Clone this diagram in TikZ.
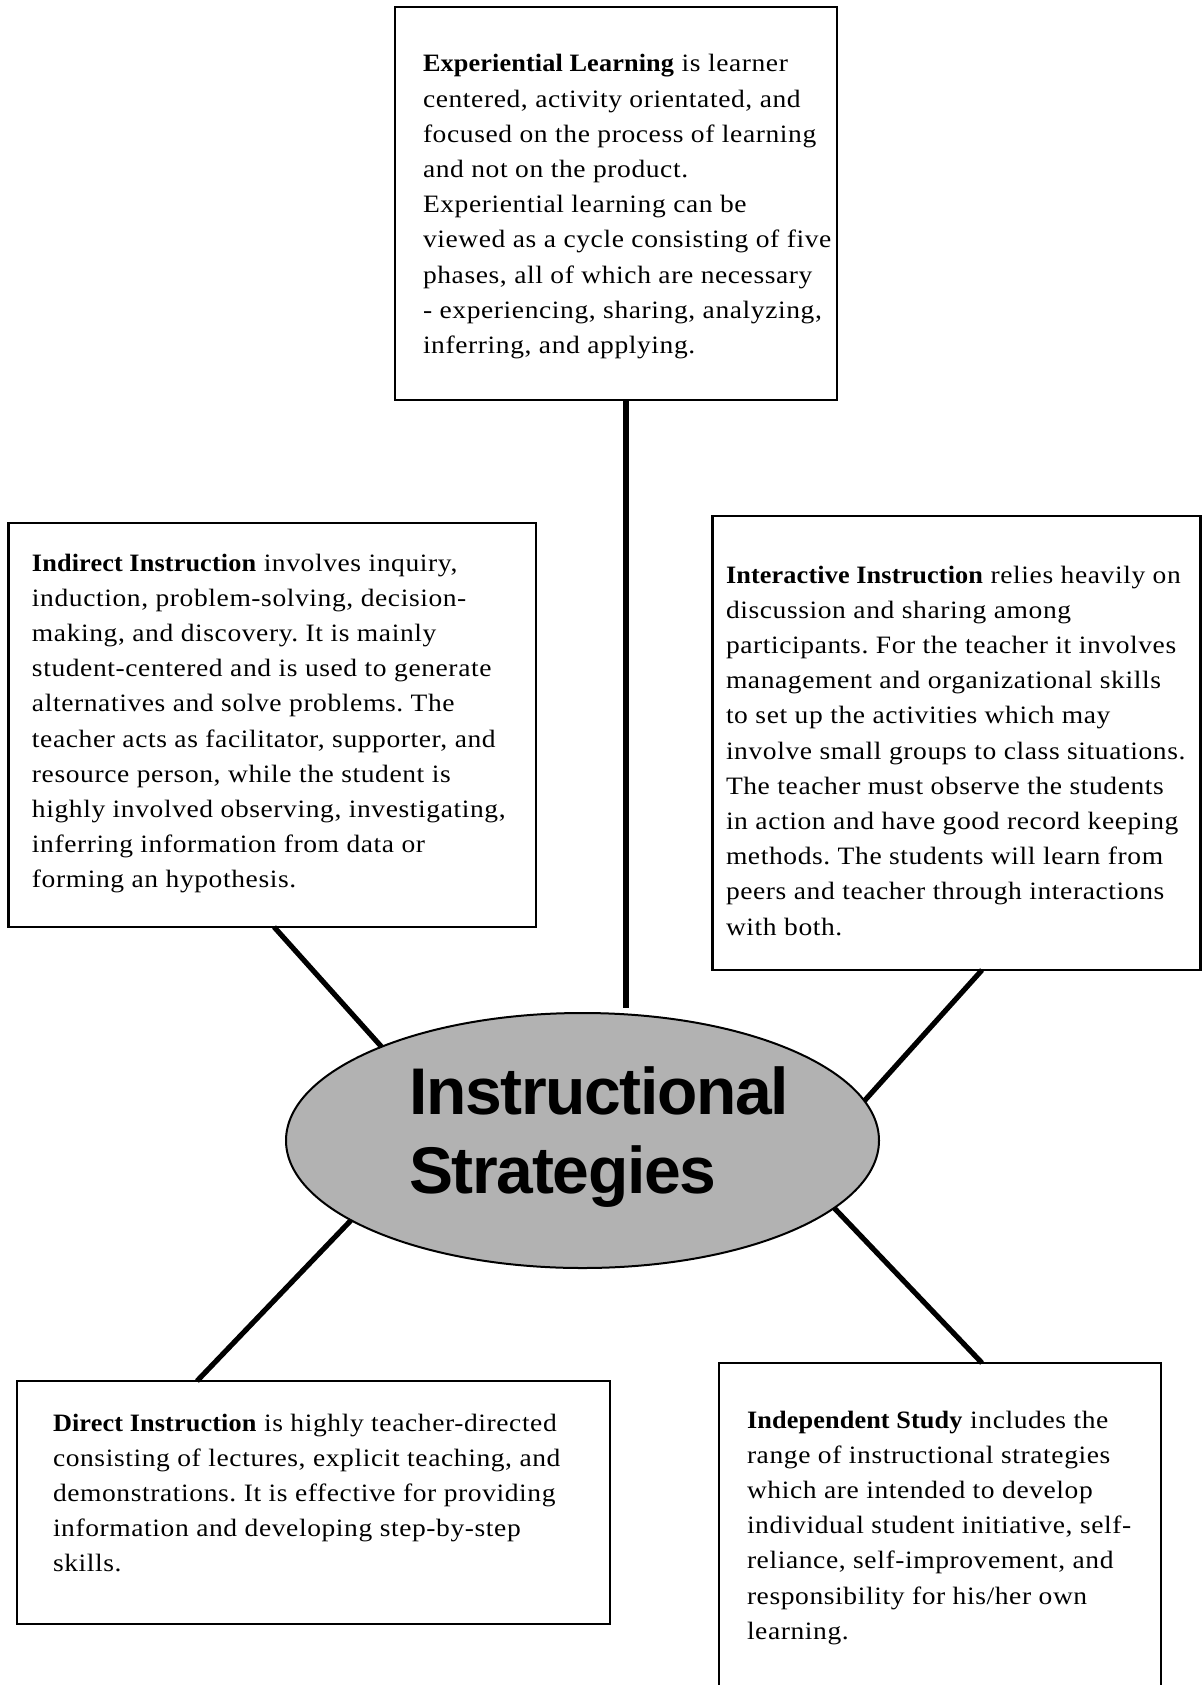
\documentclass[tikz,border=0pt]{standalone}
\usepackage{fontspec}
\setmainfont{Liberation Serif}[
  UprightFeatures={FakeStretch=1.1,LetterSpace=2.4},
  BoldFeatures={FakeStretch=1.05,LetterSpace=0.5}]
\newfontfamily\hubfont{Liberation Sans}[LetterSpace=-2]
\usetikzlibrary{shapes.geometric,calc}
\newcommand{\btext}[1]{\parbox[t]{300pt}{\fontsize{12.5}{17.6}\selectfont\frenchspacing\raggedright #1}}
\begin{document}
\begin{tikzpicture}[x=0.5pt,y=-0.5pt,
  card/.style={draw=black,line width=1.4pt,rectangle,inner sep=0pt,outer sep=0pt,anchor=north west,fill=white},
  words/.style={anchor=base west,inner sep=0pt,outer sep=0pt,text=black},
  conn/.style={draw=black,line width=2.6pt},
  hub/.style={draw=black,line width=1pt,ellipse,fill=black!30,inner sep=0pt,outer sep=0pt,minimum width=296.5pt,minimum height=127.5pt}]
\fill[white] (0,0) rectangle (1203,1685);
\useasboundingbox (0,0) rectangle (1203,1685);

% boxes
\node[card,minimum width=221pt,minimum height=196.5pt] (topbox) at (395,7) {};
\node[card,minimum width=263.7pt,minimum height=202pt] (leftbox) at (8.6,523) {};
\node[card,minimum width=244pt,minimum height=227pt] (rightbox) at (712.5,516) {};
\node[card,minimum width=296.5pt,minimum height=121.5pt] (dirbox) at (17,1381) {};
\node[card,minimum width=221pt,minimum height=190pt] (indbox) at (719,1363) {};

% hub
\node[hub] (hub) at (582.5,1140.5) {};
\node[words] (hubt) at (409,1114) {\parbox[t]{250pt}{\hubfont\bfseries\fontsize{33}{39.5}\selectfont Instructional\\Strategies}};

% connectors
\coordinate (vt) at (626,1008);
\draw[conn] (topbox.south -| vt) -- (vt);
\draw[conn] ($(leftbox.south west)+(265.5,0)$) -- (hub.155);
\draw[conn] ($(rightbox.south west)+(269.5,0)$) -- (hub.8.6);
\draw[conn] ($(dirbox.north west)+(180,0)$) -- (hub.199.3);
\draw[conn] ($(indbox.north west)+(263,0)$) -- (hub.-15.8);

% texts
\node[words] (topt) at (423,72) {\btext{\textbf{Experiential Learning} is learner\\
centered, activity orientated, and\\
focused on the process of learning\\
and not on the product.\\
Experiential learning can be\\
viewed as a cycle consisting of five\\
phases, all of which are necessary\\
- experiencing, sharing, analyzing,\\
inferring, and applying.}};

\node[words] (leftt) at (32,571) {\btext{\textbf{Indirect Instruction} involves inquiry,\\
induction, problem-solving, decision-\\
making, and discovery. It is mainly\\
student-centered and is used to generate\\
alternatives and solve problems. The\\
teacher acts as facilitator, supporter, and\\
resource person, while the student is\\
highly involved observing, investigating,\\
inferring information from data or\\
forming an hypothesis.}};

\node[words] (rightt) at (726,583) {\btext{\textbf{Interactive Instruction} relies heavily on\\
discussion and sharing among\\
participants. For the teacher it involves\\
management and organizational skills\\
to set up the activities which may\\
involve small groups to class situations.\\
The teacher must observe the students\\
in action and have good record keeping\\
methods. The students will learn from\\
peers and teacher through interactions\\
with both.}};

\node[words] (dirt) at (53,1431) {\btext{\textbf{Direct Instruction} is highly teacher-directed\\
consisting of lectures, explicit teaching, and\\
demonstrations. It is effective for providing\\
information and developing step-by-step\\
skills.}};

\node[words] (indt) at (747,1428) {\btext{\textbf{Independent Study} includes the\\
range of instructional strategies\\
which are intended to develop\\
individual student initiative, self-\\
reliance, self-improvement, and\\
responsibility for his/her own\\
learning.}};
\end{tikzpicture}
\end{document}
